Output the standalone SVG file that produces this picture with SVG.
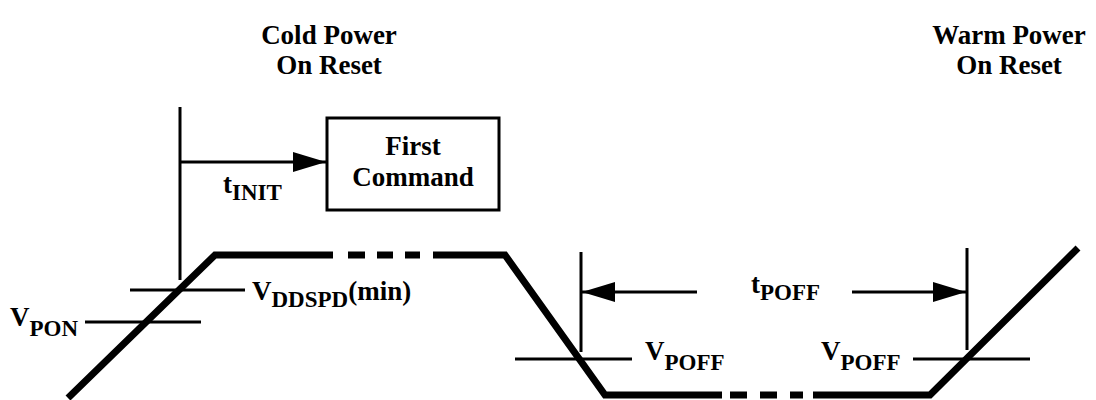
<svg xmlns="http://www.w3.org/2000/svg" width="1096" height="400" viewBox="0 0 1096 400">
<style>
text{font-family:"Liberation Serif","Times New Roman",serif;font-weight:700;fill:#000}
.t{font-size:27px}
.s{font-size:23px}
.thick{fill:none;stroke:#000;stroke-width:7;stroke-linejoin:miter}
.thin{fill:none;stroke:#000;stroke-width:3}
</style>
<defs>
<marker id="ah" markerUnits="userSpaceOnUse" markerWidth="34" markerHeight="20" refX="33" refY="10" orient="auto">
<path d="M0,0 L33,10 L0,20 z" fill="#000"/>
</marker>
</defs>
<rect width="1096" height="400" fill="#fff"/>
<g id="waveform">
<path class="thick" d="M68,398 L215,255 L333,255"/>
<path class="thick" d="M348,255 H365 M377,255 H393 M405,255 H420"/>
<path class="thick" d="M433,255 L505,255 L605,395 L722,395"/>
<path class="thick" d="M730,395 H747 M760,395 H777 M790,395 H803"/>
<path class="thick" d="M813,395 L930,395 L1078,248"/>
</g>
<g id="cold-reset">
<text class="t" x="329" y="44" text-anchor="middle">Cold Power</text>
<text class="t" x="329" y="74" text-anchor="middle">On Reset</text>
</g>
<g id="warm-reset">
<text class="t" x="1009" y="44" text-anchor="middle">Warm Power</text>
<text class="t" x="1009" y="74" text-anchor="middle">On Reset</text>
</g>
<g id="first-command">
<rect class="thin" x="327" y="118" width="172" height="92"/>
<text class="t" x="413" y="155" text-anchor="middle">First</text>
<text class="t" x="413" y="186" text-anchor="middle">Command</text>
</g>
<g id="connectors">
<line class="thin" x1="180" y1="107" x2="180" y2="280"/>
<line class="thin" x1="180" y1="162" x2="326" y2="162" marker-end="url(#ah)"/>
<line class="thin" x1="581" y1="252" x2="581" y2="352"/>
<line class="thin" x1="967" y1="248" x2="967" y2="350"/>
<line class="thin" x1="697" y1="292" x2="582" y2="292" marker-end="url(#ah)"/>
<line class="thin" x1="852" y1="292" x2="966" y2="292" marker-end="url(#ah)"/>
<line class="thin" x1="130" y1="290" x2="245" y2="290"/>
<line class="thin" x1="85" y1="322" x2="201" y2="322"/>
<line class="thin" x1="515" y1="359" x2="632" y2="359"/>
<line class="thin" x1="913" y1="359" x2="1030" y2="359"/>
</g>
<g id="tinit"><text x="223" y="193" class="t">t<tspan class="s" dy="7">INIT</tspan></text></g>
<g id="vddspd"><text x="252" y="300" class="t">V<tspan class="s" dy="7">DDSPD</tspan><tspan dy="-7">(min)</tspan></text></g>
<g id="vpon"><text x="10" y="326" class="t">V<tspan class="s" dy="10">PON</tspan></text></g>
<g id="tpoff"><text x="751" y="293" class="t">t<tspan class="s" dy="7">POFF</tspan></text></g>
<g id="vpoff1"><text x="645" y="360" class="t">V<tspan class="s" dy="10">POFF</tspan></text></g>
<g id="vpoff2"><text x="821" y="360" class="t">V<tspan class="s" dy="10">POFF</tspan></text></g>
</svg>
